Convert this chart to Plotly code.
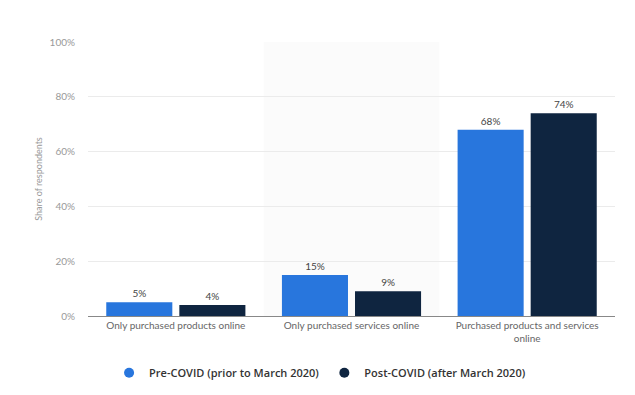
import plotly.graph_objects as go

categories = ["Only purchased products online", "Only purchased services online",
              "Purchased products and services<br>online"]
pre_covid = [5, 15, 68]
post_covid = [4, 9, 74]
series_names = ["Pre-COVID (prior to March 2020)", "Post-COVID (after March 2020)"]
tick_vals = [0, 20, 40, 60, 80, 100]
tick_text = ["0%", "20%", "40%", "60%", "80%", "100%"]

blue = "#2876dd"
navy = "#0f2540"

fig = go.Figure()
for name, vals, col in [(series_names[0], pre_covid, blue), (series_names[1], post_covid, navy)]:
    fig.add_trace(go.Bar(
        x=categories, y=vals, name=name, marker=dict(color=col, line=dict(width=0)),
        text=[f"{v}%" for v in vals], textposition="outside",
        textfont=dict(size=10, color="#444", family="Lato, Open Sans, sans-serif"),
        cliponaxis=False, showlegend=False,
    ))
for name, col in [(series_names[0], blue), (series_names[1], navy)]:
    fig.add_trace(go.Scatter(
        x=[None], y=[None], mode="markers", name=name,
        marker=dict(symbol="circle", size=10, color=col),
    ))

fig.update_layout(
    width=635, height=395,
    margin=dict(l=80, r=28, t=34, b=87, autoexpand=False),
    paper_bgcolor="white", plot_bgcolor="white",
    barmode="group", bargap=0.168, bargroupgap=0.096,
    font=dict(family="Lato, Open Sans, sans-serif"),
    showlegend=True,
    legend=dict(orientation="h", x=0.04, xanchor="left", y=-0.207, yanchor="middle",
                font=dict(size=11, color="#333", family="Open Sans, sans-serif", weight=600),
                itemwidth=30, tracegroupgap=0),
    yaxis=dict(range=[0, 100], tickvals=tick_vals, ticktext=tick_text,
               showgrid=True, gridcolor="#ebebeb", gridwidth=1,
               zeroline=False, tickfont=dict(size=10, color="#999"),
               ticks="", ticklabelstandoff=12,
               title=dict(text="Share of respondents", font=dict(size=9, color="#999"), standoff=5)),
    xaxis=dict(tickfont=dict(size=10, color="#666"), showline=True, linecolor="#888", linewidth=1,
               ticks=""),
    shapes=[
        dict(type="rect", xref="x", yref="paper", x0=0.5, x1=1.5, y0=0, y1=1,
             fillcolor="#fbfbfb", line=dict(width=0), layer="below"),
    ],
)
fig.write_html("out.html")
